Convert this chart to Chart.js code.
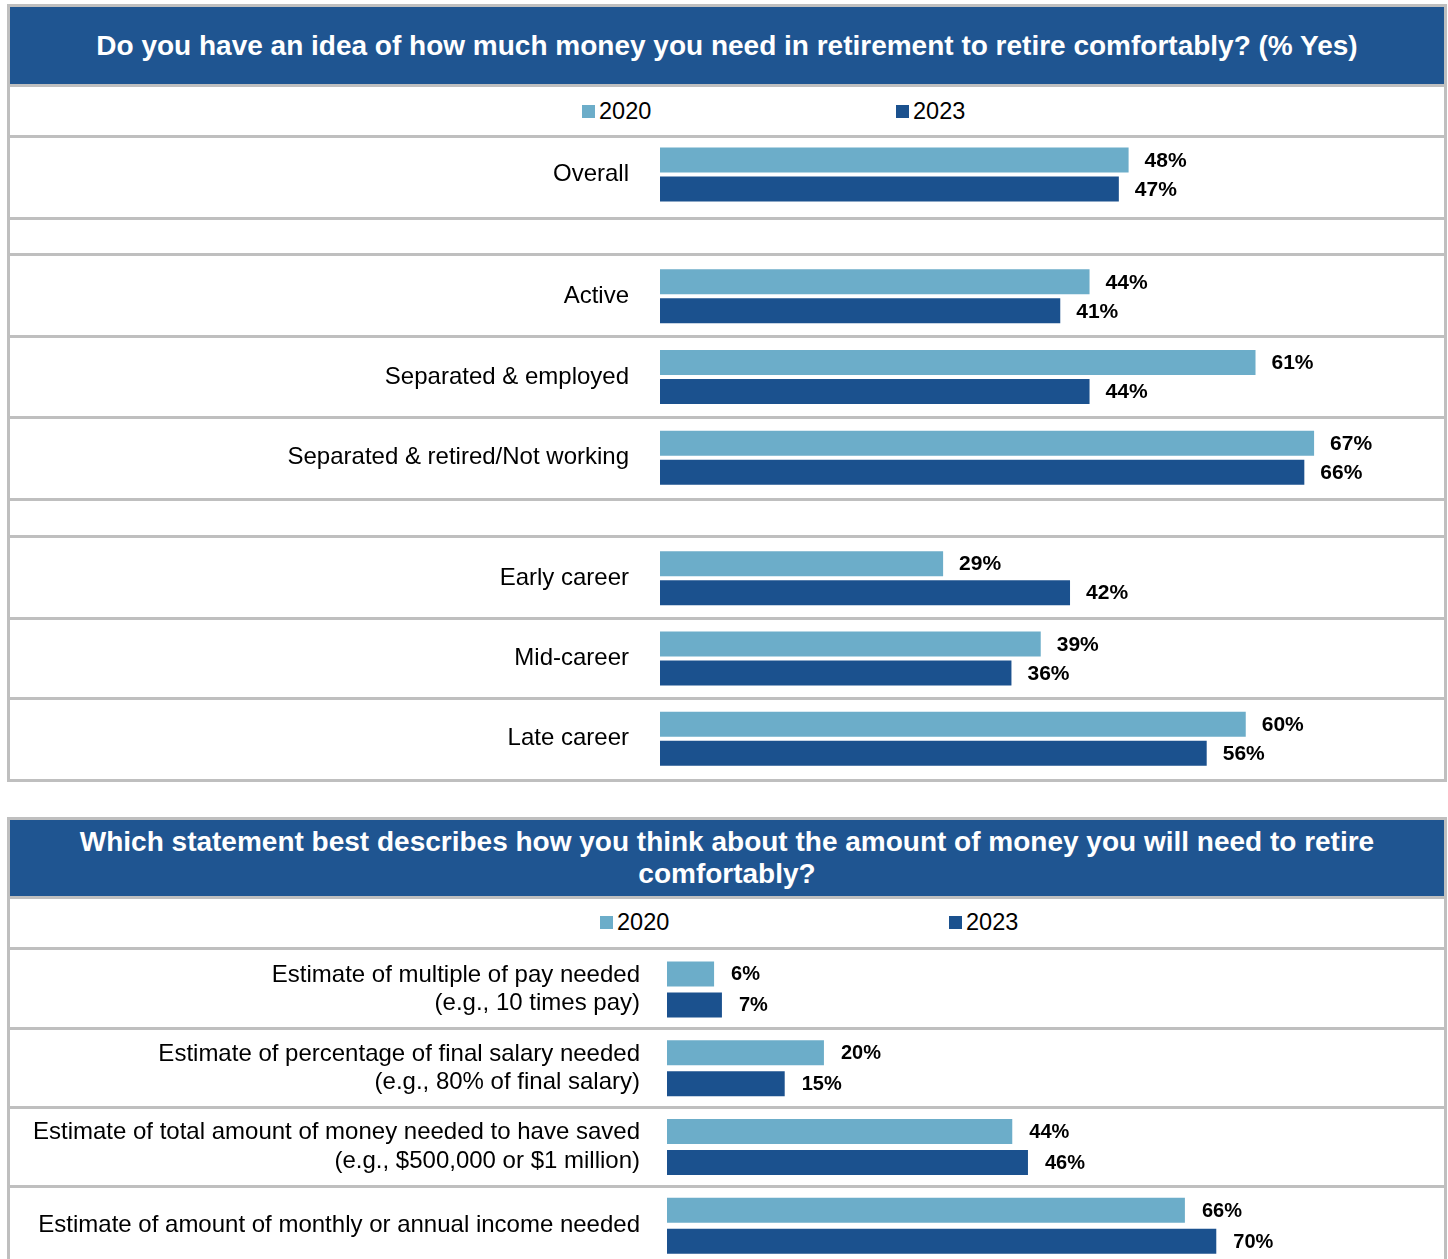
<!DOCTYPE html>
<html><head><meta charset="utf-8">
<script src="https://cdn.jsdelivr.net/npm/chart.js@4.4.1/dist/chart.umd.min.js"></script>
<style>
body{margin:0;width:1448px;height:1259px;overflow:hidden;background:#fff;font-family:"Liberation Sans",Arial,sans-serif;position:relative;}
.abs{position:absolute;}
.gray{background:#BFBFBF;}
.white{background:#fff;}
.hdr{background:#1F5591;color:#fff;font-weight:bold;font-size:28px;text-align:center;display:flex;align-items:center;justify-content:center;line-height:32px;}
.sq{position:absolute;width:13px;height:13px;}
.lt{position:absolute;font-size:23.5px;line-height:26px;color:#000;white-space:nowrap;}
canvas{position:absolute;background:#fff;display:block;}
</style></head><body>

<!-- panel 1 frame -->
<div class="abs gray" style="left:7px;top:4px;width:1440px;height:778px;"></div>
<div class="abs hdr" id="title1" style="left:10px;top:7px;width:1434px;height:77px;"></div>
<div class="abs white" style="left:10px;top:87px;width:1434px;height:48px;"></div>
<div class="abs white" style="left:10px;top:220px;width:1434px;height:33px;"></div>
<div class="abs white" style="left:10px;top:501px;width:1434px;height:34px;"></div>
<div class="sq" id="l1a" style="left:582px;top:105px;"></div>
<div class="lt" id="t1a" style="left:599px;top:98px;"></div>
<div class="sq" id="l1b" style="left:896px;top:105px;"></div>
<div class="lt" id="t1b" style="left:913px;top:98px;"></div>
<canvas id="cA" width="1434" height="79" style="left:10px;top:138px;width:1434px;height:79px;"></canvas>
<canvas id="cB" width="1434" height="242" style="left:10px;top:256px;width:1434px;height:242px;"></canvas>
<canvas id="cC" width="1434" height="241" style="left:10px;top:538px;width:1434px;height:241px;"></canvas>

<!-- panel 2 frame -->
<div class="abs gray" style="left:7px;top:817px;width:1440px;height:460px;"></div>
<div class="abs hdr" id="title2" style="left:10px;top:820px;width:1434px;height:76px;"></div>
<div class="abs white" style="left:10px;top:899px;width:1434px;height:48px;"></div>
<div class="sq" id="l2a" style="left:600px;top:916px;"></div>
<div class="lt" id="t2a" style="left:617px;top:909px;"></div>
<div class="sq" id="l2b" style="left:949px;top:916px;"></div>
<div class="lt" id="t2b" style="left:966px;top:909px;"></div>
<canvas id="cD" width="1434" height="315" style="left:10px;top:950px;width:1434px;height:315px;"></canvas>

<script>
// ---- data ----
const seriesNames = ['2020', '2023'];
const seriesColors = ['#6CADC9', '#1B518E'];

const title1 = 'Do you have an idea of how much money you need in retirement to retire comfortably? (% Yes)';
const title2Lines = ['Which statement best describes how you think about the amount of money you will need to retire', 'comfortably?'];

const overallCats = ['Overall'];
const overall2020 = [48];
const overall2023 = [47];

const statusCats = ['Active', 'Separated & employed', 'Separated & retired/Not working'];
const status2020 = [44, 61, 67];
const status2023 = [41, 44, 66];

const careerCats = ['Early career', 'Mid-career', 'Late career'];
const career2020 = [29, 39, 60];
const career2023 = [42, 36, 56];

const approachCats = [
  ['Estimate of multiple of pay needed', '(e.g., 10 times pay)'],
  ['Estimate of percentage of final salary needed', '(e.g., 80% of final salary)'],
  ['Estimate of total amount of money needed to have saved', '(e.g., $500,000 or $1 million)'],
  'Estimate of amount of monthly or annual income needed'
];
const approach2020 = [6, 20, 44, 66];
const approach2023 = [7, 15, 46, 70];

// ---- text / legend ----
document.getElementById('title1').textContent = title1;
document.getElementById('title2').innerHTML = title2Lines.join('<br>');
['1', '2'].forEach(p => {
  document.getElementById('l' + p + 'a').style.background = seriesColors[0];
  document.getElementById('l' + p + 'b').style.background = seriesColors[1];
  document.getElementById('t' + p + 'a').textContent = seriesNames[0];
  document.getElementById('t' + p + 'b').textContent = seriesNames[1];
});

// ---- plugins ----
const valueLabels = {
  id: 'valueLabels',
  afterDatasetsDraw(chart, args, o) {
    const ctx = chart.ctx;
    ctx.save();
    ctx.font = o.font;
    ctx.fillStyle = '#000';
    ctx.textBaseline = 'middle';
    ctx.textAlign = 'left';
    chart.data.datasets.forEach((ds, i) => {
      chart.getDatasetMeta(i).data.forEach((bar, j) => {
        ctx.fillText(ds.data[j] + '%', bar.x + o.offset, bar.y + 1);
      });
    });
    ctx.restore();
  }
};
const rowLines = {
  id: 'rowLines',
  afterDraw(chart) {
    const ctx = chart.ctx, ys = chart.scales.y, n = chart.data.labels.length;
    ctx.save();
    ctx.fillStyle = '#BFBFBF';
    for (let i = 0; i < n - 1; i++) {
      const p = (ys.getPixelForValue(i) + ys.getPixelForValue(i + 1)) / 2;
      ctx.fillRect(0, Math.round(p - 1.5), chart.width, 3);
    }
    ctx.restore();
  }
};

function makeChart(id, labels, a, b, cfg) {
  const canvas = document.getElementById(id);
  const h = canvas.height - (cfg.padBottom || 0) - (cfg.padTop || 0);
  const catH = h / labels.length;
  const catPct = 2 * cfg.dist / catH;
  const barPct = cfg.thick / cfg.dist;
  return new Chart(canvas, {
    type: 'bar',
    data: {
      labels: labels,
      datasets: [
        { label: seriesNames[0], data: a, backgroundColor: seriesColors[0], categoryPercentage: catPct, barPercentage: barPct },
        { label: seriesNames[1], data: b, backgroundColor: seriesColors[1], categoryPercentage: catPct, barPercentage: barPct }
      ]
    },
    options: {
      indexAxis: 'y',
      responsive: false,
      animation: false,
      devicePixelRatio: 1,
      layout: { padding: { top: cfg.padTop || 0, bottom: cfg.padBottom || 0, right: cfg.padRight, left: 0 } },
      scales: {
        x: { type: 'linear', min: 0, max: cfg.max, display: false },
        y: {
          grid: { display: false, drawTicks: false },
          border: { display: false },
          ticks: { color: '#000', padding: cfg.tickPad, font: { family: cfg.family, size: cfg.size, lineHeight: cfg.lh } },
          afterFit(s) { s.width = cfg.axisW; s.paddingTop = 0; s.paddingBottom = 0; }
        }
      },
      plugins: {
        legend: { display: false },
        tooltip: { enabled: false },
        valueLabels: { font: cfg.valFont, offset: cfg.valOff }
      }
    },
    plugins: [valueLabels, rowLines]
  });
}

const p1 = { axisW: 650, tickPad: 31, family: '"Liberation Sans", Arial, sans-serif', size: 24, lh: 1.2,
  max: 80, padRight: 3, dist: 29, thick: 25, valFont: 'bold 21px "Liberation Sans", Arial, sans-serif', valOff: 16 };
makeChart('cA', overallCats, overall2020, overall2023, Object.assign({}, p1, { padBottom: 6 }));
makeChart('cB', statusCats, status2020, status2023, p1);
makeChart('cC', careerCats, career2020, career2023, p1);

makeChart('cD', approachCats, approach2020, approach2023, {
  axisW: 657, tickPad: 27, family: '"Liberation Sans", Arial, sans-serif', size: 24, lh: 1.17,
  max: 98, padRight: 8, dist: 31, thick: 25, valFont: 'bold 20px "Liberation Sans", Arial, sans-serif', valOff: 17 });
</script>
</body></html>
